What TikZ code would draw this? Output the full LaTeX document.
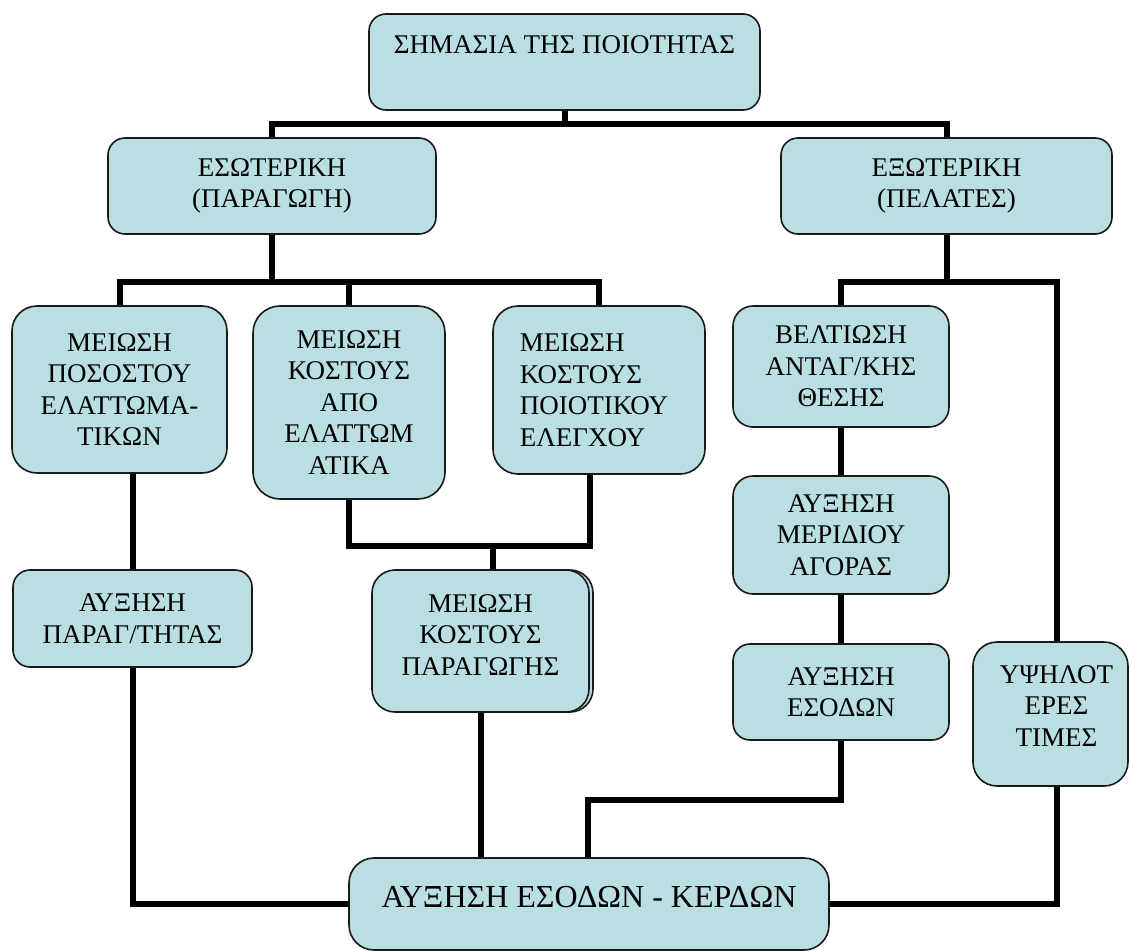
\documentclass[tikz,border=0pt]{standalone}
\usepackage{fontspec}
\setmainfont{Liberation Serif}
\pgfdeclarelayer{bg}
\pgfsetlayers{bg,main}
\definecolor{boxfill}{RGB}{185,223,227}
\begin{document}
\begin{tikzpicture}[x=1pt,y=-1pt,
  box/.style={draw=black!90, line width=1.6pt, fill=boxfill, rounded corners=18pt,
    inner sep=0pt, align=center, font=\fontsize{27}{31.5}\selectfont},
  txt/.style={align=center, inner sep=0pt, font=\fontsize{27}{31.5}\selectfont},
  conn/.style={line width=6pt, draw=black}]
\useasboundingbox (0,0) rectangle (1129,950);

% top level
\node[box, minimum width=391pt, minimum height=96pt, rounded corners=17pt,
  label={[txt, name=top-t, yshift=17pt]center:ΣΗΜΑΣΙΑ ΤΗΣ ΠΟΙΟΤΗΤΑΣ}] (top) at (564.5,62) {};

% second level
\node[box, minimum width=328pt, minimum height=96pt, rounded corners=17pt] (eso) at (272,186) {ΕΣΩΤΕΡΙΚΗ\\(ΠΑΡΑΓΩΓΗ)};
\node[box, minimum width=331pt, minimum height=96pt, rounded corners=17pt] (exo) at (946.5,186) {ΕΞΩΤΕΡΙΚΗ\\(ΠΕΛΑΤΕΣ)};

% internal branch
\node[box, minimum width=215pt, minimum height=167pt, rounded corners=25pt] (m1) at (119.5,389.5) {ΜΕΙΩΣΗ\\ΠΟΣΟΣΤΟΥ\\ΕΛΑΤΤΩΜΑ-\\ΤΙΚΩΝ};
\node[box, minimum width=192pt, minimum height=193pt, rounded corners=27pt] (m2) at (349,402.5) {ΜΕΙΩΣΗ\\ΚΟΣΤΟΥΣ\\ΑΠΟ\\ΕΛΑΤΤΩΜ\\ΑΤΙΚΑ};
\node[box, minimum width=212pt, minimum height=168pt, rounded corners=25pt,
  label={[txt, name=m3-t, align=left, xshift=-5pt]center:ΜΕΙΩΣΗ\\ΚΟΣΤΟΥΣ\\ΠΟΙΟΤΙΚΟΥ\\ΕΛΕΓΧΟΥ}] (m3) at (599,390) {};
\node[box, minimum width=239pt, minimum height=97pt, rounded corners=17pt] (par) at (132.5,618.5) {ΑΥΞΗΣΗ\\ΠΑΡΑΓ/ΤΗΤΑΣ};
\node[box, minimum width=217pt, minimum height=142pt, rounded corners=23pt] (cost-back) at (484.5,641) {};
\node[box, minimum width=217pt, minimum height=142pt, rounded corners=23pt,
  label={[txt, name=cost-t, yshift=6pt]center:ΜΕΙΩΣΗ\\ΚΟΣΤΟΥΣ\\ΠΑΡΑΓΩΓΗΣ}] (cost) at (480.5,641) {};

% external branch
\node[box, minimum width=216pt, minimum height=121pt, rounded corners=20pt] (belt) at (841,366.5) {ΒΕΛΤΙΩΣΗ\\ΑΝΤΑΓ/ΚΗΣ\\ΘΕΣΗΣ};
\node[box, minimum width=216pt, minimum height=118pt, rounded corners=20pt] (mer) at (841,535) {ΑΥΞΗΣΗ\\ΜΕΡΙΔΙΟΥ\\ΑΓΟΡΑΣ};
\node[box, minimum width=216pt, minimum height=96pt, rounded corners=17pt] (esod) at (841,692) {ΑΥΞΗΣΗ\\ΕΣΟΔΩΝ};
\node[box, minimum width=155pt, minimum height=144pt, rounded corners=24pt,
  label={[txt, name=ypsi-t, xshift=6pt, yshift=8pt]center:ΥΨΗΛΟΤ\\ΕΡΕΣ\\ΤΙΜΕΣ}] (ypsi) at (1050.5,714) {};

% result
\node[box, minimum width=480pt, minimum height=92pt, rounded corners=25pt,
  label={[txt, name=res-t, yshift=7pt, font=\fontsize{32}{36}\selectfont]center:ΑΥΞΗΣΗ ΕΣΟΔΩΝ - ΚΕΡΔΩΝ}] (res) at (589,904) {};

% junction points of the connectors
\coordinate (j1) at (564.5,124);
\coordinate (j2) at (272,282);
\coordinate (j3) at (493,546);
\coordinate (j4) at (590,546);
\coordinate (j5) at (946.5,282);
\coordinate (j6) at (1057,282);
\coordinate (j7) at (588,800);

\begin{pgfonlayer}{bg}
  \draw[conn] (top.south) -- (j1);
  \draw[conn] (eso.north) |- (j1) -| (exo.north);
  \draw[conn] (eso.south) -- (j2);
  \draw[conn] (m1.north) |- (j2) -| (m3.north);
  \draw[conn] (m2.north) -- (m2.north |- j2);
  \draw[conn] (par.north) -- (par.north |- m1.south);
  \draw[conn] (par.south) |- (res.west);
  \draw[conn] (m2.south) |- (j4) -- (j4 |- m3.south);
  \draw[conn] (j3) -- (j3 |- cost.north);
  \draw[conn] (cost.south) -- (cost.south |- res.north);
  \draw[conn] (exo.south) -- (j5);
  \draw[conn] (belt.north) |- (j6) -- (j6 |- ypsi.north);
  \draw[conn] (belt.south) -- (mer.north);
  \draw[conn] (mer.south) -- (esod.north);
  \draw[conn] (esod.south) |- (j7) -- (j7 |- res.north);
  \draw[conn] (ypsi.south -| j6) |- (res.east);
\end{pgfonlayer}
\end{tikzpicture}
\end{document}
